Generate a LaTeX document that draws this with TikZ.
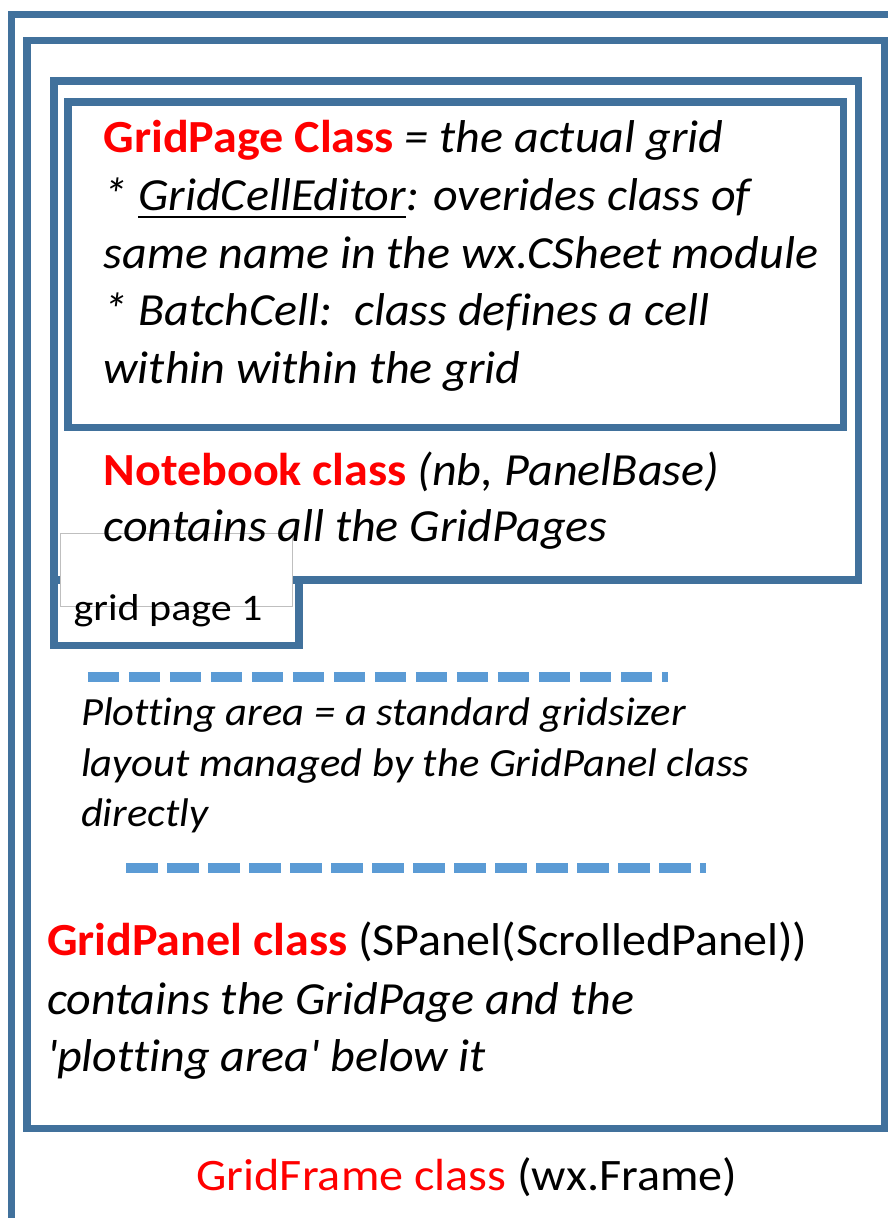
\documentclass[tikz,border=0pt]{standalone}
\usepackage{fontspec}
\setmainfont{Carlito}[Ligatures={TeX,NoCommon}]
\newfontfamily\bigfont{Carlito}[FakeStretch=1.045,Ligatures={TeX,NoCommon}]
\newfontfamily\framefont{Carlito}[FakeStretch=1.07,Ligatures={TeX,NoCommon}]
\newfontfamily\midfont{Carlito}[FakeStretch=1.065,Ligatures={TeX,NoCommon}]
\newfontfamily\tabfont{Carlito}[FakeStretch=1.12,Ligatures={TeX,NoCommon}]
\definecolor{frameblue}{HTML}{41719C}
\definecolor{dashblue}{HTML}{5B9BD5}
\definecolor{boxgrey}{HTML}{BFBFBF}
\definecolor{classred}{HTML}{FF0000}
\newcommand\clsname[1]{\textcolor{classred}{\textbf{#1}}}
\newsavebox\ulbox
\newcommand\ulword[1]{\sbox\ulbox{#1}\rlap{\rule[-7pt]{\wd\ulbox}{2pt}}\usebox\ulbox}
\begin{document}
\begin{tikzpicture}[x=1pt,y=-1pt,
  frame/.style={draw=frameblue,line width=7.5pt},
  dashline/.style={draw=dashblue,line width=10.5pt,dash pattern=on 31.5pt off 9.5pt},
  txt/.style={anchor=base west,inner sep=0pt,outer sep=0pt},
  bigtxt/.style={txt,font=\bigfont\fontsize{46}{56}\selectfont},
  midtxt/.style={txt,font=\midfont\fontsize{40}{48}\selectfont},
  tabtxt/.style={txt,font=\tabfont\fontsize{37.5}{44}\selectfont},
  frametxt/.style={txt,font=\framefont\fontsize{45}{52}\selectfont}]
\useasboundingbox (0,0) rectangle (888,1218);
\clip (0,0) rectangle (888,1218);
\fill[white] (0,0) rectangle (888,1218);
% GridFrame (outer, clipped by the page)
\draw[frame] (11.7,14.5) rectangle (920,1260);
% GridPanel
\draw[frame] (27.2,40.5) rectangle (885,1128.5);
% Notebook and its tab
\draw[frame] (54,81) rectangle (858.5,580);
\draw[frame] (54,580) rectangle (299,645.5);
\draw[draw=boxgrey,line width=1pt,fill=white] (60,533.3) rectangle (292.3,606.7);
% GridPage
\draw[frame] (68,102) rectangle (843.5,427.5);
% plotting area dashed lines
\draw[dashline] (87.8,677) -- (668,677);
\draw[dashline] (126.3,868) -- (706,868);
% GridPage text
\node[bigtxt] (gp1) at (103.6,152.7) {\clsname{GridPage Class} \textit{= the actual grid}};
\node[bigtxt] (gp2) at (103.6,210.7) {\textit{* \ulword{GridCellEditor}: overides class of}};
\node[bigtxt] (gp3) at (103.6,268) {\textit{same name in the wx.CSheet module}};
\node[bigtxt] (gp4) at (103.6,325) {\textit{* BatchCell:\ \ class defines a cell}};
\node[bigtxt] (gp5) at (103.6,383) {\textit{within within the grid}};
% Notebook text
\node[bigtxt] (nb1) at (103.6,485) {\clsname{Notebook class} \textit{(nb, PanelBase)}};
\node[bigtxt] (nb2) at (103.6,541.7) {\textit{contains all the GridPages}};
\node[tabtxt] (tab) at (73.6,620) {grid page 1};
% plotting area text
\node[midtxt] (pa1) at (81,725) {\textit{Plotting area = a standard gridsizer}};
\node[midtxt] (pa2) at (81,776.7) {\textit{layout managed by the GridPanel class}};
\node[midtxt] (pa3) at (81,826.7) {\textit{directly}};
% GridPanel text
\node[bigtxt] (pn1) at (47,955.7) {\clsname{GridPanel class} (SPanel(ScrolledPanel))};
\node[bigtxt] (pn2) at (47,1014) {\textit{contains the GridPage and the}};
\node[bigtxt] (pn3) at (47,1071.7) {\textit{\textquotesingle plotting area\textquotesingle\ below it}};
% GridFrame text
\node[frametxt] (gf) at (196.5,1190) {\textcolor{classred}{GridFrame class} (wx.Frame)};
\end{tikzpicture}
\end{document}
